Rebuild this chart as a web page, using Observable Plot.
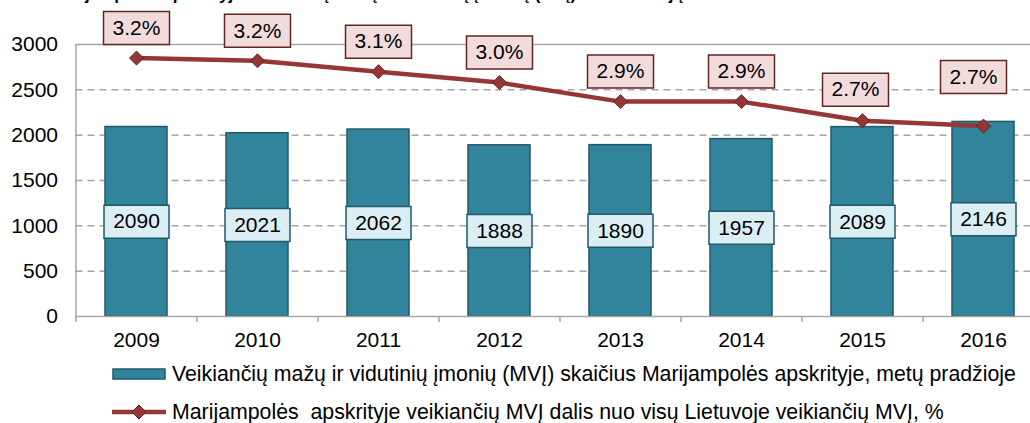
<!DOCTYPE html>
<html><head><meta charset="utf-8">
<script src="https://cdn.jsdelivr.net/npm/d3@7"></script>
<script src="https://cdn.jsdelivr.net/npm/@observablehq/plot@0.6"></script>
<style>
html,body{margin:0;padding:0;background:#fff;overflow:hidden;width:1030px;height:423px;font-family:"Liberation Sans",Arial,sans-serif;}
#wrap{position:relative;width:1030px;height:423px;overflow:hidden;}
#title{position:absolute;left:50px;top:-15px;font-weight:bold;font-size:17px;line-height:19px;white-space:nowrap;z-index:2;}
#chart{position:absolute;left:0;top:0;}
#legend{position:absolute;left:0;top:356px;width:1030px;height:67px;}
.row{position:absolute;left:112px;display:flex;align-items:center;height:30px;font-size:21.3px;white-space:pre;color:#000;}
.row svg{margin-right:6px;flex:none;}
</style></head>
<body><div id="wrap">
<div id="title"></div>
<div id="chart"></div>
<div id="legend"></div>
</div>
<script>
const years = ["2009","2010","2011","2012","2013","2014","2015","2016"];
const counts = [2090, 2021, 2062, 1888, 1890, 1957, 2089, 2146];
const shares = [3.20, 3.18, 3.10, 3.02, 2.88, 2.88, 2.74, 2.70];
const yTicks = [0, 500, 1000, 1500, 2000, 2500, 3000];
const shareAxisDomain = [1.3, 3.3]; // hidden secondary axis (%)
const titleText = "Marijampolės apskrityje veikiančių mažų ir vidutinių įmonių (MVĮ) skaičius ir jų dalis";
const legendLabels = [
  "Veikiančių mažų ir vidutinių įmonių (MVĮ) skaičius Marijampolės apskrityje, metų pradžioje",
  "Marijampolės  apskrityje veikiančių MVĮ dalis nuo visų Lietuvoje veikiančių MVĮ, %"
];

const data = years.map((year, i) => ({year, count: counts[i], share: shares[i]}));

const barFill = "#31849b", barStroke = "#215968";
const lineColor = "#953735", lineDark = "#632523";
const gridColor = "#a6a6a6";
const FS = 21;

const shareToY = d3.scaleLinear(shareAxisDomain, [yTicks[0], yTicks[yTicks.length - 1]]);
const box = (w, h) => ({draw(ctx) { ctx.rect(-w / 2, -h / 2, w, h); }});

const W = 1030, H = 356;
const xLeft = 75.5, xRight = 1044;
const halfBand = (xRight - xLeft) / years.length / 2;

const pctText = d => d.share.toFixed(1) + "%";
const pctGroups = [
  {filter: d => d.year !== "2015" && d.year !== "2016", dx: 0, dy: -30},
  {filter: d => d.year === "2015", dx: -7, dy: -31},
  {filter: d => d.year === "2016", dx: -10, dy: -49}
];

const chart = Plot.plot({
  width: W,
  height: H,
  marginTop: 44,
  marginBottom: 40,
  marginLeft: xLeft,
  marginRight: 0,
  style: {fontFamily: '"Liberation Sans", Arial, sans-serif', fontSize: FS + "px", color: "#000", background: "#fff", overflow: "hidden"},
  x: {domain: years, range: [xLeft, xRight], paddingInner: 0.49, paddingOuter: 0.245, axis: null, label: null},
  y: {domain: [0, 3000], axis: null, label: null},
  marks: [
    Plot.ruleY(yTicks.filter(v => v > 0 && v < 3000), {stroke: gridColor, strokeWidth: 1.5, strokeDasharray: "7,5"}),
    Plot.ruleY([3000], {stroke: gridColor, strokeWidth: 1.5}),
    Plot.barY(data, {x: "year", y: "count", fill: barFill, stroke: barStroke, strokeWidth: 1.5}),
    Plot.ruleY([0], {stroke: gridColor, strokeWidth: 1.5}),
    Plot.ruleX([years[0]], {dx: -halfBand, stroke: gridColor, strokeWidth: 1.5}),
    Plot.axisY({ticks: yTicks, tickSize: 0, tickPadding: 18, fontSize: FS, label: null, tickFormat: d => String(d)}),
    Plot.axisX({tickSize: 0, tickPadding: 16, fontSize: FS, label: null}),
    Plot.axisX({tickSize: 6, tickFormat: () => "", label: null, dx: -halfBand, stroke: gridColor, strokeWidth: 1.5}),
    // bar value labels
    Plot.dot(data, {x: "year", y: d => d.count / 2, symbol: box(65, 33), r: 5, fill: "#dbeef4", stroke: barStroke, strokeWidth: 1.5}),
    Plot.text(data, {x: "year", y: d => d.count / 2, text: d => String(d.count), fontSize: FS, fill: "#000"}),
    // share line
    Plot.line(data, {x: "year", y: d => shareToY(d.share), stroke: lineColor, strokeWidth: 4.5}),
    Plot.dot(data, {x: "year", y: d => shareToY(d.share), symbol: "diamond2", r: 6.3, fill: lineColor, stroke: lineDark, strokeWidth: 1}),
    ...pctGroups.flatMap(g => [
      Plot.dot(data, {filter: g.filter, x: "year", y: d => shareToY(d.share), dx: g.dx, dy: g.dy, symbol: box(66, 33), r: 5, fill: "#f2dcdb", stroke: lineDark, strokeWidth: 1.5}),
      Plot.text(data, {filter: g.filter, x: "year", y: d => shareToY(d.share), dx: g.dx, dy: g.dy, text: pctText, fontSize: FS, fill: "#000"})
    ])
  ]
});
document.getElementById("chart").append(chart);
document.getElementById("title").textContent = titleText;

// legend
const legend = document.getElementById("legend");
const row1 = document.createElement("div");
row1.className = "row"; row1.style.top = "3px";
row1.innerHTML = `<svg width="54" height="14"><rect x="1" y="2" width="52" height="10" fill="${barFill}" stroke="${barStroke}" stroke-width="1.5"/></svg>`;
const t1 = document.createElement("span"); t1.textContent = legendLabels[0]; row1.append(t1);
const row2 = document.createElement("div");
row2.className = "row"; row2.style.top = "41px";
row2.innerHTML = `<svg width="54" height="16"><line x1="0" y1="8" x2="54" y2="8" stroke="${lineColor}" stroke-width="4.5"/><path d="M27,1L34,8L27,15L20,8Z" fill="${lineColor}" stroke="${lineDark}" stroke-width="1"/></svg>`;
const t2 = document.createElement("span"); t2.textContent = legendLabels[1]; row2.append(t2);
legend.append(row1, row2);
</script>
</body></html>
